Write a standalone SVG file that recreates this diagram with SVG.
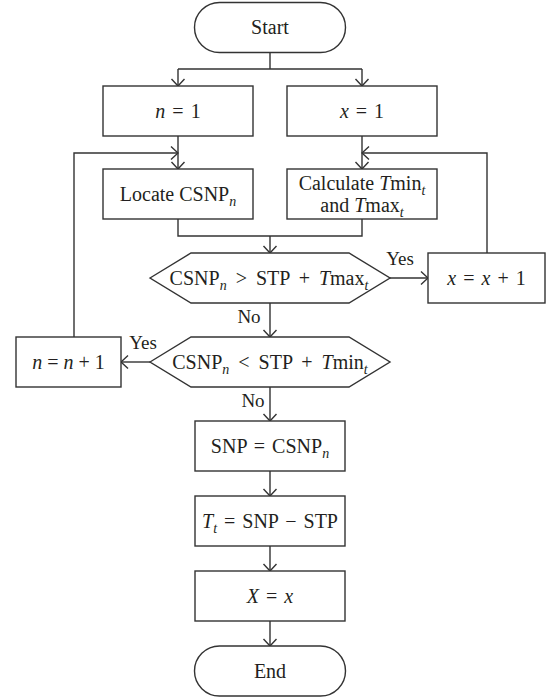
<svg xmlns="http://www.w3.org/2000/svg" width="548" height="699" viewBox="0 0 548 699">
<style>
.s{fill:#fff;stroke:#333;stroke-width:1.4}
.c{fill:none;stroke:#333;stroke-width:1.4}
text{font-family:"Liberation Serif","Times New Roman",serif;font-size:20px;fill:#231f20;text-anchor:middle}
.lb{font-size:19px}
.i{font-style:italic}
.sb{font-size:14px;font-style:italic}
.m{word-spacing:2px}
.h{word-spacing:4px}
</style>
<defs>
<marker id="a" viewBox="-9 -8 10 16" refX="0" refY="0" markerWidth="10" markerHeight="16" markerUnits="userSpaceOnUse" orient="auto">
<path d="M-7,-6.5 L0,0 L-7,6.5" fill="none" stroke="#333" stroke-width="1.4"/>
</marker>
</defs>
<rect width="548" height="699" fill="#fff"/>
<g id="connectors">
<path class="c" d="M270,52 V69 M178,69 H362"/>
<path class="c" d="M178,69 V86" marker-end="url(#a)"/>
<path class="c" d="M362,69 V86" marker-end="url(#a)"/>
<path class="c" d="M178,136 V169" marker-end="url(#a)"/>
<path class="c" d="M362,136 V169" marker-end="url(#a)"/>
<path class="c" d="M74,337 V153 H178" marker-end="url(#a)"/>
<path class="c" d="M487,253 V153 H362" marker-end="url(#a)"/>
<path class="c" d="M178,219 V236 H362 V219"/>
<path class="c" d="M270,236 V253" marker-end="url(#a)"/>
<path class="c" d="M390,278 H428" marker-end="url(#a)"/>
<path class="c" d="M270,303 V337" marker-end="url(#a)"/>
<path class="c" d="M150,362 H121" marker-end="url(#a)"/>
<path class="c" d="M270,387 V421" marker-end="url(#a)"/>
<path class="c" d="M270,471 V496" marker-end="url(#a)"/>
<path class="c" d="M270,546 V571" marker-end="url(#a)"/>
<path class="c" d="M270,621 V646" marker-end="url(#a)"/>
<text class="lb" x="400" y="265">Yes</text>
<text class="lb" x="249" y="323">No</text>
<text class="lb" x="143" y="349">Yes</text>
<text class="lb" x="253" y="407">No</text>
</g>
<g id="start">
<rect class="s" x="194.5" y="2.5" width="151" height="50" rx="25"/>
<text x="270" y="34">Start</text>
</g>
<g id="n1">
<rect class="s" x="103" y="86" width="150" height="50"/>
<text class="m" x="178" y="118"><tspan class="i">n</tspan> = 1</text>
</g>
<g id="x1">
<rect class="s" x="287" y="86" width="150" height="50"/>
<text class="m" x="362" y="118"><tspan class="i">x</tspan> = 1</text>
</g>
<g id="locate">
<rect class="s" x="103" y="169" width="150" height="50"/>
<text x="178" y="201">Locate CSNP<tspan class="sb" dy="5">n</tspan></text>
</g>
<g id="calc">
<rect class="s" x="287" y="169" width="150" height="50"/>
<text x="362" y="190">Calculate <tspan class="i">T</tspan>min<tspan class="sb" dy="5">t</tspan></text>
<text x="362" y="212">and <tspan class="i">T</tspan>max<tspan class="sb" dy="5">t</tspan></text>
</g>
<g id="dec1">
<polygon class="s" points="150,278 191,253 349,253 390,278 349,303 191,303"/>
<text class="h" x="269" y="285">CSNP<tspan class="sb" dy="5">n</tspan><tspan dy="-5"> &gt; STP + </tspan><tspan class="i">T</tspan>max<tspan class="sb" dy="5">t</tspan></text>
</g>
<g id="xinc">
<rect class="s" x="428" y="253" width="117" height="50"/>
<text class="m" x="486.5" y="285"><tspan class="i">x</tspan> = <tspan class="i">x</tspan> + 1</text>
</g>
<g id="dec2">
<polygon class="s" points="150,362 191,337 349,337 390,362 349,387 191,387"/>
<text class="h" x="270" y="369">CSNP<tspan class="sb" dy="5">n</tspan><tspan dy="-5"> &lt; STP + </tspan><tspan class="i">T</tspan>min<tspan class="sb" dy="5">t</tspan></text>
</g>
<g id="ninc">
<rect class="s" x="16" y="337" width="105" height="50"/>
<text x="68.5" y="369"><tspan class="i">n</tspan> = <tspan class="i">n</tspan> + 1</text>
</g>
<g id="snp">
<rect class="s" x="195" y="421" width="150" height="50"/>
<text class="m" x="270" y="453">SNP = CSNP<tspan class="sb" dy="5">n</tspan></text>
</g>
<g id="tt">
<rect class="s" x="195" y="496" width="150" height="50"/>
<text class="m" x="270" y="528"><tspan class="i">T</tspan><tspan class="sb" dy="5">t</tspan><tspan dy="-5"> = SNP − STP</tspan></text>
</g>
<g id="xx">
<rect class="s" x="195" y="571" width="150" height="50"/>
<text class="m" x="270" y="603"><tspan class="i">X</tspan> = <tspan class="i">x</tspan></text>
</g>
<g id="end">
<rect class="s" x="194.5" y="646" width="151" height="50" rx="25"/>
<text x="270" y="678">End</text>
</g>
</svg>
